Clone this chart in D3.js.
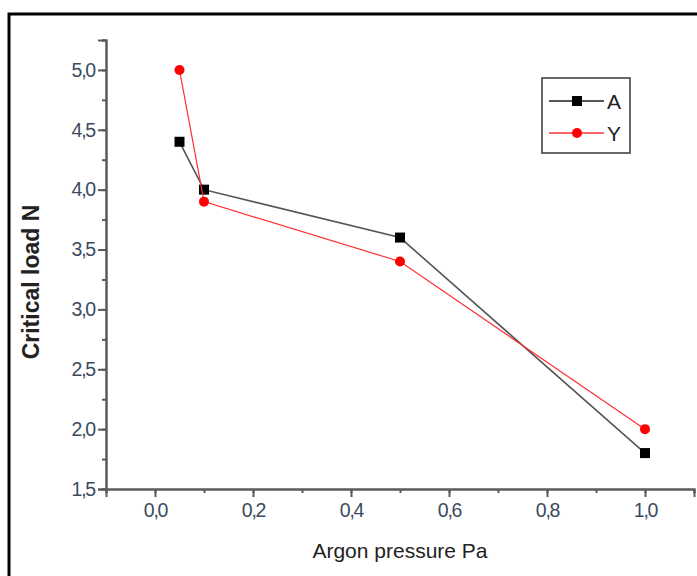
<!DOCTYPE html>
<html>
<head>
<meta charset="utf-8">
<script src="https://cdn.jsdelivr.net/npm/d3@7"></script>
<style>
  body { margin: 0; background: #fff; }
  svg { display: block; font-family: Arial, "Liberation Sans", sans-serif; }
</style>
</head>
<body>
<div id="chart"></div>
<script>
const pressure = [0.05, 0.1, 0.5, 1.0];
const loadA = [4.4, 4.0, 3.6, 1.8];
const loadY = [5.0, 3.9, 3.4, 2.0];
const xTicks = [0.0, 0.2, 0.4, 0.6, 0.8, 1.0];
const yTicks = [1.5, 2.0, 2.5, 3.0, 3.5, 4.0, 4.5, 5.0];

const width = 697, height = 576;
const svg = d3.select("#chart").append("svg")
    .attr("width", width)
    .attr("height", height);

// outer frame
svg.append("rect")
    .attr("x", 9).attr("y", 14)
    .attr("width", 700).attr("height", 600)
    .attr("fill", "none")
    .attr("stroke", "#000")
    .attr("stroke-width", 3);

var x = d3.scaleLinear().domain([-0.1, 1.1]).range([106, 694]);
var y = d3.scaleLinear().domain([1.5, 5.25]).range([489, 40]);

const fmt = d => d3.format(".1f")(d).replace(".", ",");
const axisColor = "#5a5a5a";

// minor ticks
let xAxisMinor = d3.axisBottom(x).tickValues(d3.range(-0.1, 1.15, 0.1)).tickSize(4).tickFormat('');
svg.append("g").attr("transform", "translate(0,489)").call(xAxisMinor);
let yAxisMinor = d3.axisLeft(y).tickValues(d3.range(1.5, 5.3, 0.25)).tickSize(4).tickFormat('');
svg.append("g").attr("transform", "translate(106,0)").call(yAxisMinor);

// major ticks
var xAxis = svg.append("g")
    .attr("transform", "translate(0,489)")
    .call(d3.axisBottom(x).tickValues(xTicks).tickSize(8).tickPadding(6).tickFormat(fmt));
var yAxis = svg.append("g")
    .attr("transform", "translate(106,0)")
    .call(d3.axisLeft(y).tickValues(yTicks).tickSize(8).tickPadding(3).tickFormat(fmt));

svg.selectAll(".domain").attr("stroke", axisColor).attr("stroke-width", 2);
svg.selectAll(".tick line").attr("stroke", axisColor).attr("stroke-width", 2);
svg.selectAll(".tick text")
    .attr("fill", "#3b4a5e")
    .style("font-size", "19.5px")
    .style("letter-spacing", "-1.2px")
    .style("font-family", "Arial, 'Liberation Sans', sans-serif");

// axis titles
svg.append("text")
    .attr("x", 400).attr("y", 558)
    .attr("text-anchor", "middle")
    .attr("fill", "#222")
    .style("font-size", "21px")
    .text("Argon pressure Pa");
svg.append("text")
    .attr("transform", "translate(39,282) rotate(-90)")
    .attr("text-anchor", "middle")
    .attr("fill", "#222")
    .style("font-size", "23px")
    .style("font-weight", "bold")
    .text("Critical load N");

const series = [
    {name: "A", values: loadA, line: "#555555", marker: "#000", shape: "square", lw: 1.6},
    {name: "Y", values: loadY, line: "#ff3030", marker: "#ff0000", shape: "circle", lw: 1.2}
];

series.forEach(s => {
    let pts = pressure.map((p, i) => [p, s.values[i]]);
    svg.append("path")
        .datum(pts)
        .attr("fill", "none")
        .attr("stroke", s.line)
        .attr("stroke-width", s.lw)
        .attr("d", d3.line().x(d => x(d[0])).y(d => y(d[1])));
    if (s.shape == "square") {
        svg.selectAll(".sq").data(pts).enter().append("rect")
            .attr("x", d => x(d[0]) - 5).attr("y", d => y(d[1]) - 5)
            .attr("width", 10).attr("height", 10)
            .attr("fill", s.marker);
    } else {
        svg.selectAll(".ci").data(pts).enter().append("circle")
            .attr("cx", d => x(d[0])).attr("cy", d => y(d[1]))
            .attr("r", 5)
            .attr("fill", s.marker);
    }
});

// legend
const legend = svg.append("g");
legend.append("rect")
    .attr("x", 542).attr("y", 78)
    .attr("width", 88).attr("height", 75)
    .attr("fill", "#fff")
    .attr("stroke", "#444")
    .attr("stroke-width", 1.6);
series.forEach((s, i) => {
    let ly = 101 + i * 32;
    legend.append("line")
        .attr("x1", 549).attr("x2", 604)
        .attr("y1", ly).attr("y2", ly)
        .attr("stroke", s.line).attr("stroke-width", s.lw + 0.4);
    if (s.shape == "square") {
        legend.append("rect").attr("x", 572).attr("y", ly - 5)
            .attr("width", 10).attr("height", 10).attr("fill", s.marker);
    } else {
        legend.append("circle").attr("cx", 577).attr("cy", ly).attr("r", 5).attr("fill", s.marker);
    }
    legend.append("text")
        .attr("x", 607).attr("y", ly + 8)
        .attr("fill", "#222")
        .style("font-size", "21px")
        .text(s.name);
});
</script>
</body>
</html>
